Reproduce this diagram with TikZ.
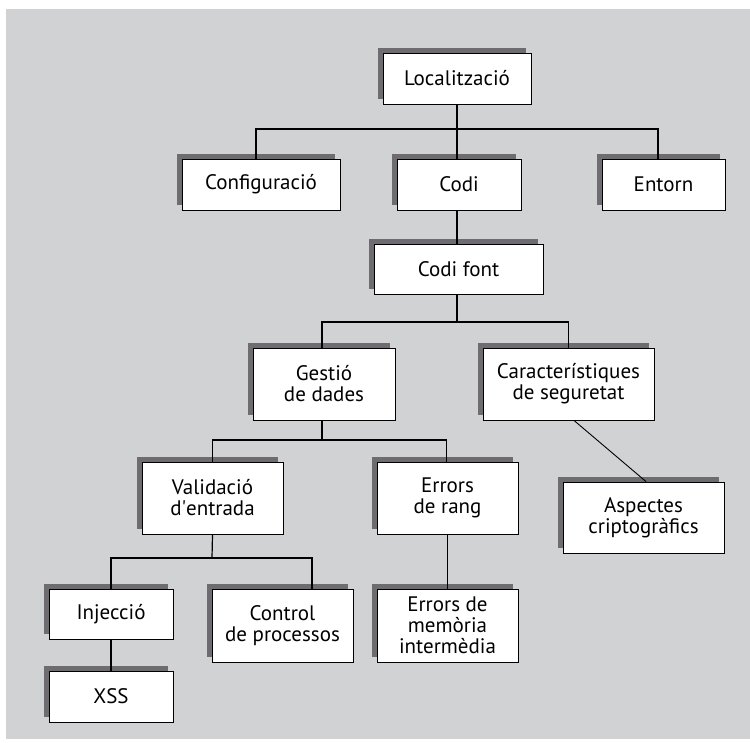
\documentclass[tikz,border=0pt]{standalone}
\usepackage{fontspec}
\setmainfont{PT Sans}[Ligatures=TeXOff]
\usetikzlibrary{shadows}
\definecolor{bggray}{HTML}{D1D2D4}
\definecolor{shgray}{HTML}{6E6C71}

\begin{document}
\begin{tikzpicture}[x=1pt,y=-1pt,
		box/.style={draw=black,line width=0.9pt,fill=white,inner sep=0pt,align=center,
			font=\fontsize{21}{21}\selectfont,
			drop shadow={shadow xshift=-5pt,shadow yshift=5pt,fill=shgray,opacity=1}},
		conn/.style={line width=1.2pt}]
		\useasboundingbox (0,0) rectangle (750,742);
		\fill[bggray] (6,9) rectangle (750,739);
		%
		\node[box,minimum width=148pt,minimum height=51pt] (loc) at (457,78.5) {Localització};
		\node[box,minimum width=158pt,minimum height=51pt] (conf) at (261,184.5) {Configuració};
		\node[box,minimum width=124pt,minimum height=51pt] (codi) at (459,184.5) {Codi};
		\node[box,minimum width=123pt,minimum height=51pt] (ent) at (663.5,184.5) {Entorn};
		\node[box,minimum width=169pt,minimum height=50pt] (font) at (458.5,269) {Codi font};
		\node[box,minimum width=142pt,minimum height=72pt] (gest) at (324,384) {Gestió\\de dades};
		\node[box,minimum width=171pt,minimum height=72pt] (carac) at (568.5,384) {Característiques\\de seguretat};
		\node[box,minimum width=141pt,minimum height=72pt] (valid) at (212.5,498) {Validació\\d\textquotesingle entrada};
		\node[box,minimum width=141pt,minimum height=72pt] (rang) at (447.5,498) {Errors\\de rang};
		\node[box,minimum width=161pt,minimum height=71pt] (crip) at (643.5,517.5) {Aspectes\\criptogràfics};
		\node[box,minimum width=124pt,minimum height=50pt] (inj) at (111,614) {Injecció};
		\node[box,minimum width=141pt,minimum height=73pt] (ctrl) at (282.5,625.5) {Control\\de processos};
		\node[box,minimum width=141pt,minimum height=73pt] (mem) at (447.5,625.5) {Errors de\\memòria\\intermèdia};
		\node[box,minimum width=124pt,minimum height=51pt] (xss) at (111,696.5) {XSS};
		%
		\coordinate (b1) at (457,129);
		\coordinate (b2) at (457,322);
		\coordinate (b3) at (322,440);
		\coordinate (b4) at (212,558);
		%
		\draw[conn] (loc.south) -- (b1);
		\draw[conn] ([xshift=-5pt]conf.north) |- (b1) -| ([xshift=-5.5pt]ent.north);
		\draw[conn] (b1) -- ([xshift=-2pt]codi.north);
		\draw[conn] ([xshift=-2pt]codi.south) -- ([xshift=-1.5pt]font.north);
		\draw[conn] ([xshift=-1.5pt]font.south) -- (b2);
		\draw[conn] ([xshift=-2pt]gest.north) |- (b2) -| (carac.north);
		\draw[conn] ([xshift=-2pt]gest.south) -- (b3);
		\draw[conn] (valid.north) |- (b3) -| ([xshift=-1pt]rang.north);
		\draw[conn] (valid.south) -- (b4);
		\draw[conn] (inj.north) |- (b4) -| ([xshift=29.5pt]ctrl.north);
		\draw[conn] (inj.south) -- (xss.north);
		\draw[conn] (rang.south) -- (mem.north);
		\draw[line width=0.9pt] ([xshift=5.5pt]carac.south) -- ([xshift=2.5pt]crip.north);
	\end{tikzpicture}
\end{document}
